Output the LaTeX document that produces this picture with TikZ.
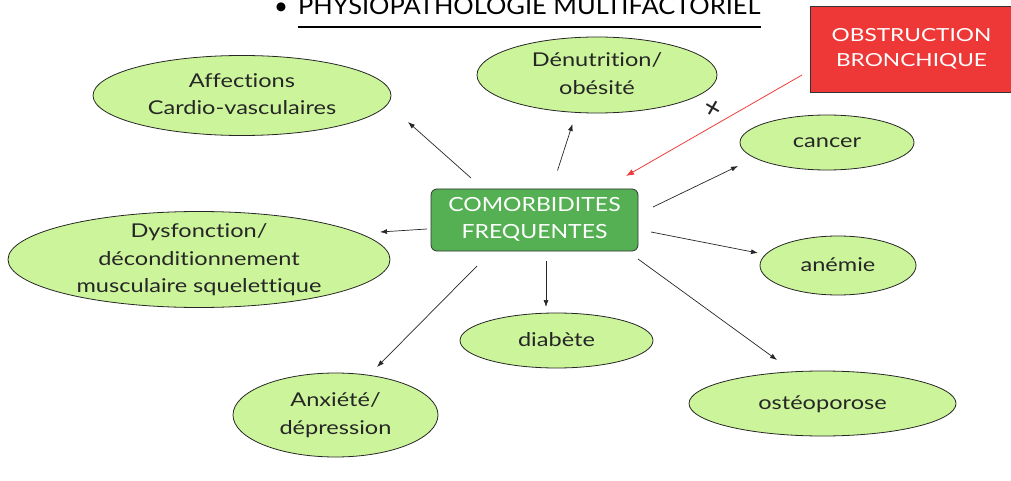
\documentclass[tikz,border=0pt]{standalone}
\usepackage{fontspec}
\usepackage{graphicx}
\setmainfont{Lato}[Ligatures=NoCommon]
\usetikzlibrary{arrows.meta,shapes.geometric}
\definecolor{ellfill}{RGB}{204,245,155}
\definecolor{boxgreen}{RGB}{84,176,82}
\definecolor{boxred}{RGB}{238,56,55}
\definecolor{arrred}{RGB}{238,60,60}
\newcommand{\widetext}[2]{\scalebox{#1}[1]{\begin{tabular}{@{}c@{}}#2\end{tabular}}}
\tikzset{
  bubble/.style={ellipse, draw=black!85, line width=0.8pt, fill=ellfill, inner sep=0pt},
  btext/.style={inner sep=0pt, font=\fontsize{19}{27.5}\selectfont, text=black!85},
  conn/.style={-{Latex[length=7pt,width=5pt]}, line width=0.7pt, draw=black!85},
  redconn/.style={-{Latex[length=8pt,width=6pt]}, line width=0.8pt, draw=arrred},
}
\begin{document}
\begin{tikzpicture}[x=1pt,y=-1pt]
\useasboundingbox (0,0) rectangle (1011,481);
% title
\node[anchor=base west, font=\fontsize{24}{26}\selectfont, inner sep=0pt] (titleb) at (274,15) {•};
\node[anchor=base west, font=\fontsize{24}{26}\selectfont, inner sep=0pt] (title) at (298,15) {\scalebox{1.06}[1]{PHYSIOPATHOLOGIE MULTIFACTORIEL}};
\draw[line width=2pt] ([yshift=-12pt]title.base west) -- ([yshift=-12pt]title.base east);
% central box
\node[draw=black!80, line width=0.8pt, fill=boxgreen, rounded corners=6pt, minimum width=207pt, minimum height=62pt, inner sep=0pt, text=white, font=\fontsize{19.5}{27}\selectfont] (hub) at (534.5,220) {\widetext{1.18}{COMORBIDITES\\FREQUENTES}};
% red box
\node[draw=black!80, line width=0.6pt, fill=boxred, minimum width=203pt, minimum height=86pt, inner sep=0pt, text=white, font=\fontsize{18}{25}\selectfont] (obs) at (911.5,49) {\widetext{1.26}{OBSTRUCTION\\BRONCHIQUE}};
% bubbles
\node[bubble, minimum width=298pt, minimum height=80pt] (aff) at (242,95.5) {};
\node[btext] (afft) at (aff) {\widetext{1.24}{Affections\\Cardio-vasculaires}};
\node[bubble, minimum width=240pt, minimum height=76pt] (den) at (597,75) {};
\node[btext] (dent) at (den) {\widetext{1.24}{Dénutrition/\\obésité}};
\node[bubble, minimum width=174pt, minimum height=55pt] (can) at (827,142.5) {};
\node[btext] (cant) at (can) {\widetext{1.24}{cancer}};
\node[bubble, minimum width=382pt, minimum height=96pt] (dys) at (199,259.5) {};
\node[btext] (dyst) at (dys) {\widetext{1.24}{Dysfonction/\\déconditionnement\\musculaire squelettique}};
\node[bubble, minimum width=156pt, minimum height=59pt] (ane) at (838,265.5) {};
\node[btext] (anet) at (ane) {\widetext{1.24}{anémie}};
\node[bubble, minimum width=193pt, minimum height=55pt] (dia) at (556.5,340.5) {};
\node[btext] (diat) at (dia) {\widetext{1.24}{diabète}};
\node[bubble, minimum width=205pt, minimum height=84pt] (anx) at (335.5,415) {};
\node[btext] (anxt) at (anx) {\widetext{1.24}{Anxiété/\\dépression}};
\node[bubble, minimum width=267pt, minimum height=65pt] (ost) at (822.5,403.5) {};
\node[btext] (ostt) at (ost) {\widetext{1.24}{ostéoporose}};
% connector end points
\coordinate (s1) at (471,178); \coordinate (e1) at (408,122);
\coordinate (s2) at (557.5,170.5); \coordinate (e2) at (572.5,124);
\coordinate (s3) at (653,207); \coordinate (e3) at (738,166);
\coordinate (s4) at (427,229); \coordinate (e4) at (380,232);
\coordinate (s5) at (651,232); \coordinate (e5) at (758,253);
\coordinate (s6) at (546,261); \coordinate (e6) at (546,307);
\coordinate (s7) at (638,259); \coordinate (e7) at (777,360);
\coordinate (s8) at (477,266); \coordinate (e8) at (377,367);
\coordinate (rs) at (802,75); \coordinate (re) at (626,176);
\draw[conn] (s1) -- (e1);
\draw[conn] (s2) -- (e2);
\draw[conn] (s3) -- (e3);
\draw[conn] (s4) -- (e4);
\draw[conn] (s5) -- (e5);
\draw[conn] (s6) -- (e6);
\draw[conn] (s7) -- (e7);
\draw[conn] (s8) -- (e8);
\draw[redconn] (rs) -- (re);
\node[rotate=-30, font=\fontsize{30}{30}\selectfont, text=black!85, inner sep=0pt] (plus) at (712,109) {+};
\end{tikzpicture}
\end{document}
